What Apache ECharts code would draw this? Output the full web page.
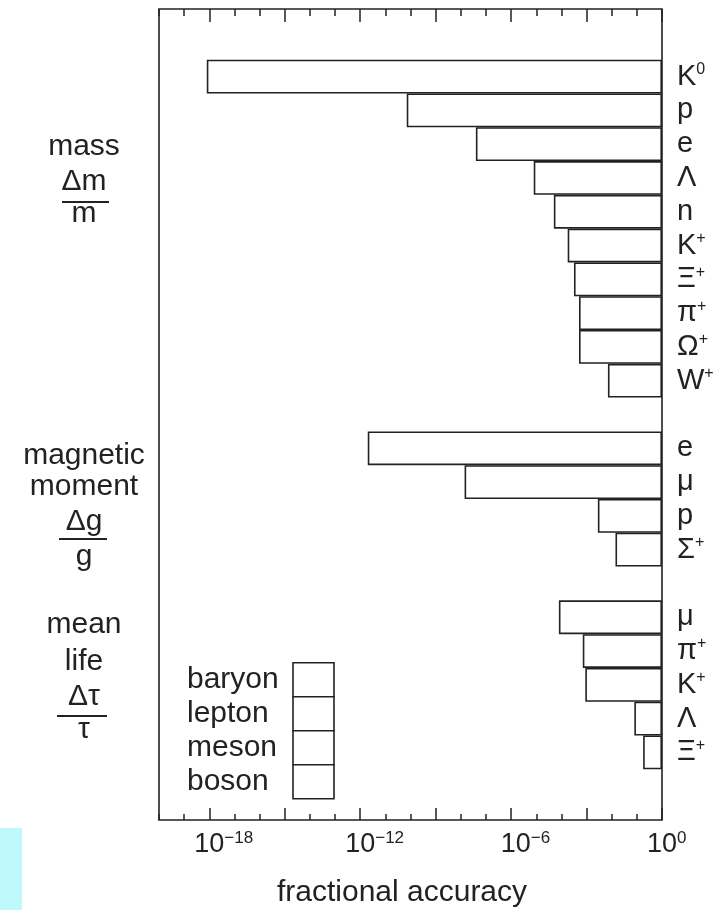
<!DOCTYPE html>
<html><head><meta charset="utf-8">
<script src="https://cdn.jsdelivr.net/npm/echarts@6/dist/echarts.min.js"></script>
<style>html,body{margin:0;padding:0;background:#fff}#c{width:719px;height:913px}</style>
</head><body><div id="c"></div>
<script>
// ---- data ----
const rowLabels = ['K^0','p','e','Λ','n','K^+','Ξ^+','π^+','Ω^+','W^+','',
                   'e','μ','p','Σ^+','',
                   'μ','π^+','K^+','Λ','Ξ^+'];
// log10 of fractional accuracy
const log10Accuracy = [-18.1,-10.15,-7.4,-5.1,-4.3,-3.75,-3.5,-3.3,-3.3,-2.15,null,
                       -11.7,-7.85,-2.55,-1.85,null,
                       -4.1,-3.15,-3.05,-1.1,-0.75];
const particleClass = ['meson','baryon','lepton','baryon','baryon','meson','baryon','meson','baryon','boson',null,
                       'lepton','lepton','baryon','baryon',null,
                       'lepton','meson','meson','baryon','baryon'];
const classNames = ['baryon','lepton','meson','boson'];
const blankBefore = 2, blankAfter = 2;
const minorTickValues = [-20,-19,-18,-17,-16,-15,-14,-13,-12,-11,-10,-9,-8,-7,-6,-5,-4,-3,-2,-1,0];
const majorTickValues = [-18,-15,-12,-9,-6,-3,0];
const tickLabelValues = [-18,-12,-6,0];
const axisTitle = 'fractional accuracy';

// ---- build ----
const FONT = 'Liberation Sans, Arial, sans-serif';
const INK = '#222';
const categories = [];
for (let i = 0; i < blankBefore; i++) categories.push('');
rowLabels.forEach(l => categories.push(l));
for (let i = 0; i < blankAfter; i++) categories.push('');

const series = classNames.map(cls => ({
  type: 'bar', name: cls, xAxisIndex: 0, yAxisIndex: 0,
  barGap: '-100%', barCategoryGap: '0%',
  itemStyle: { color: '#fff', borderColor: INK, borderWidth: 1.6 },
  emphasis: { disabled: true },
  data: categories.map((_, k) => {
    const i = k - blankBefore;
    return (i >= 0 && i < rowLabels.length && particleClass[i] === cls) ? log10Accuracy[i] : '-';
  })
}));

function expText(v) { return v === 0 ? '0' : '\u2212' + Math.abs(v); }
function expWidth(s) { let w = 0; for (const ch of s) w += (ch === '\u2212' ? 0.584 : 0.556) * 17; return w; }

const baseAxis = { type: 'value', min: -20, max: 0, gridIndex: 0,
  axisLine: { show: false }, splitLine: { show: false } };

const xAxes = [
  Object.assign({}, baseAxis, { position: 'bottom',
    axisTick: { show: true, inside: true, length: 6, customValues: minorTickValues, lineStyle: { color: INK, width: 1.5 } },
    axisLabel: { show: false } }),
  Object.assign({}, baseAxis, { position: 'bottom',
    axisTick: { show: true, inside: true, length: 12, customValues: majorTickValues, lineStyle: { color: INK, width: 1.5 } },
    axisLabel: { show: true, customValues: tickLabelValues, margin: 10,
      formatter: v => '{sp' + (v === 0 ? 'a' : 'b') + '| }{b|10}{e|' + expText(v) + '}',
      rich: {
        spa: { width: expWidth('0'), fontSize: 17 },
        spb: { width: expWidth('\u221218'), fontSize: 17 },
        b: { fontSize: 27, fontFamily: FONT, color: INK, lineHeight: 30 },
        e: { fontSize: 17, fontFamily: FONT, color: INK, lineHeight: 17, verticalAlign: 'top' }
      } },
    name: axisTitle, nameLocation: 'middle', nameGap: 58,
    nameTextStyle: { fontSize: 30, fontFamily: FONT, color: INK, padding: [0, 17, 0, 0] } }),
  Object.assign({}, baseAxis, { position: 'top',
    axisTick: { show: true, inside: true, length: 7, customValues: minorTickValues, lineStyle: { color: INK, width: 1.5 } },
    axisLabel: { show: false } }),
  Object.assign({}, baseAxis, { position: 'top',
    axisTick: { show: true, inside: true, length: 13, customValues: majorTickValues, lineStyle: { color: INK, width: 1.5 } },
    axisLabel: { show: false } })
];

const leftText = (text, y) => ({ type: 'text', x: 84, y: y,
  style: { text: text, fontSize: 30, fontFamily: FONT, fill: INK, align: 'center', verticalAlign: 'middle' } });
const fracLine = (x1, x2, y) => ({ type: 'line', shape: { x1: x1, y1: y, x2: x2, y2: y },
  style: { stroke: INK, lineWidth: 1.8 } });

const chart = echarts.init(document.getElementById('c'), null, { renderer: 'canvas' });
chart.setOption({
  animation: false,
  backgroundColor: '#fff',
  grid: { left: 159, right: 57, top: 9, bottom: 91, show: true, borderColor: INK, borderWidth: 1.6, backgroundColor: 'transparent' },
  legend: {
    data: classNames, orient: 'vertical', left: 187, top: 662, align: 'right',
    itemWidth: 41, itemHeight: 34, itemGap: -1.6, padding: 0, icon: 'rect', selectedMode: false,
    formatter: name => '{a|' + name + '}',
    textStyle: { fontSize: 30, fontFamily: FONT, color: INK, lineHeight: 28, padding: [0, 9, 0, 0],
      rich: { a: { fontSize: 30, fontFamily: FONT, color: INK, lineHeight: 28, width: 92, align: 'left' } } },
    itemStyle: { color: '#fff', borderColor: INK, borderWidth: 1.6 }
  },
  xAxis: xAxes,
  yAxis: {
    type: 'category', data: categories, inverse: true, boundaryGap: false, position: 'right',
    axisLine: { show: false }, axisTick: { show: false }, splitLine: { show: false },
    axisLabel: { interval: 0, margin: 15, align: 'left',
      formatter: v => { if (!v) return ''; const p = v.split('^'); return p[1] ? '{b|' + p[0] + '}{s|' + p[1] + '}' : '{b|' + p[0] + '}'; },
      rich: {
        b: { fontSize: 29, fontFamily: FONT, color: INK, lineHeight: 30 },
        s: { fontSize: 16, fontFamily: FONT, color: INK, lineHeight: 16, verticalAlign: 'top' }
      } }
  },
  series: series,
  graphic: [
    leftText('mass', 147), leftText('\u0394m', 182), fracLine(62, 109, 202), leftText('m', 214),
    leftText('magnetic', 456), leftText('moment', 487), leftText('\u0394g', 522), fracLine(59, 107, 539), leftText('g', 557),
    leftText('mean', 625), leftText('life', 662), leftText('\u0394\u03c4', 697), fracLine(57, 107, 716), leftText('\u03c4', 730),
    { type: 'rect', shape: { x: 0, y: 828, width: 22, height: 82 }, style: { fill: '#bdf8fb' } }
  ]
});
</script></body></html>
